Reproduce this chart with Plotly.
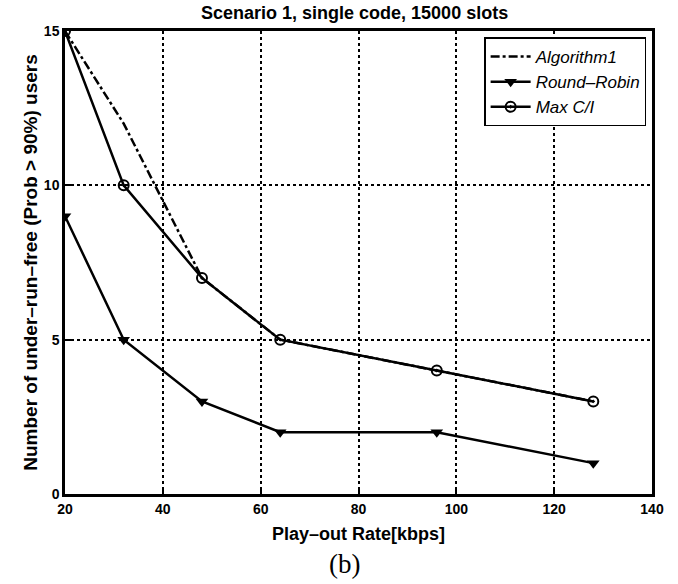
import plotly.graph_objects as go

rates = [20, 32, 48, 64, 96, 128]
algorithm1 = [15, 12, 7, 5, 4, 3]
round_robin = [9, 5, 3, 2, 2, 1]
max_ci = [15, 10, 7, 5, 4, 3]

fig = go.Figure()
fig.add_trace(go.Scatter(x=rates, y=algorithm1, mode="lines", name="<i>Algorithm1</i>",
                         line=dict(color="black", width=2.5, dash="dashdot")))
fig.add_trace(go.Scatter(x=rates, y=round_robin, mode="lines+markers", name="<i>Round\u2013Robin</i>",
                         line=dict(color="black", width=2.5),
                         marker=dict(symbol="triangle-down", size=11, color="black")))
fig.add_trace(go.Scatter(x=rates, y=max_ci, mode="lines+markers", name="<i>Max C/I</i>",
                         line=dict(color="black", width=2.5),
                         marker=dict(symbol="circle-open-dot", size=10, color="black",
                                     line=dict(width=2, color="black"))))

axis_common = dict(showline=True, mirror=True, linecolor="black", linewidth=2.5,
                   ticks="inside", ticklen=6, tickwidth=2, tickcolor="black",
                   showgrid=True, gridcolor="black", gridwidth=1.5, griddash="dot",
                   zeroline=False,
                   tickfont=dict(family="Liberation Sans", size=14, color="black", weight="bold"))

fig.update_xaxes(range=[20, 140], tickvals=[20, 40, 60, 80, 100, 120, 140],
                 title=dict(text="Play\u2013out Rate[kbps]", standoff=12,
                            font=dict(family="Liberation Sans", size=18, color="black", weight="bold")),
                 **axis_common)
fig.update_yaxes(range=[0, 15], tickvals=[0, 5, 10, 15],
                 title=dict(text="Number of under\u2013run\u2013free (Prob > 90%) users", standoff=2,
                            font=dict(family="Liberation Sans", size=19, color="black", weight="bold")),
                 **axis_common)

fig.update_layout(
    width=678, height=584,
    margin=dict(l=65, r=26, t=31, b=90),
    paper_bgcolor="white", plot_bgcolor="white",
    title=dict(text="Scenario 1, single code, 15000 slots", x=0.523, xanchor="center",
               y=0.978, yanchor="middle",
               font=dict(family="Liberation Sans", size=18, color="black", weight="bold")),
    legend=dict(x=0.99, y=0.986, xanchor="right", yanchor="top",
                bgcolor="white", bordercolor="black", borderwidth=1.5,
                font=dict(family="Liberation Sans", size=17, color="black"),
                tracegroupgap=0, itemwidth=40),
    showlegend=True,
    annotations=[dict(text="(b)", xref="paper", yref="paper", x=(344 - 65) / 587, y=-0.115,
                      xanchor="center", yanchor="top", showarrow=False,
                      font=dict(family="Liberation Serif", size=27, color="black"))],
)

fig.write_html("out.html")
